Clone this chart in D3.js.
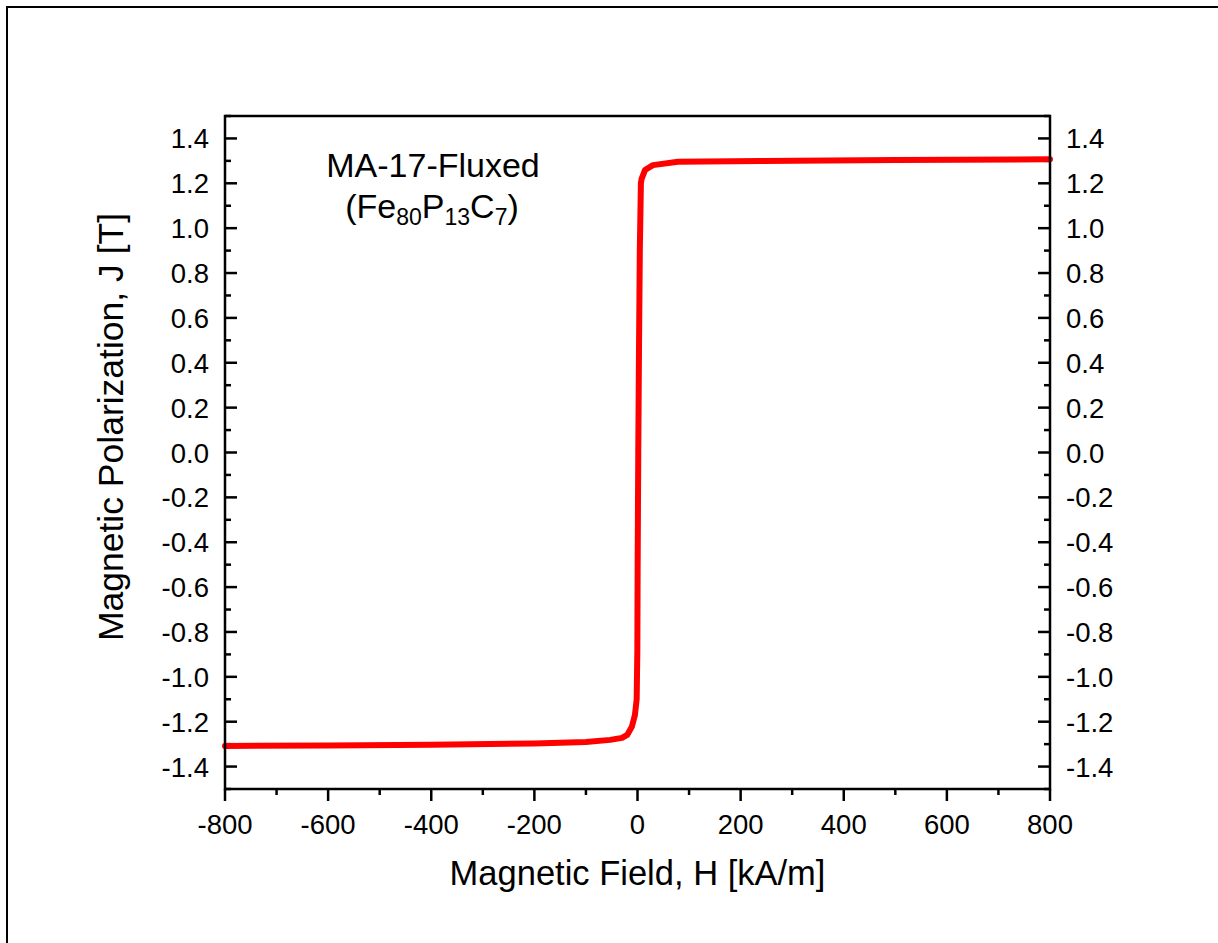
<!DOCTYPE html>
<html>
<head>
<meta charset="utf-8">
<script src="https://cdn.jsdelivr.net/npm/d3@7"></script>
<style>
  body { margin: 0; background: #fff; }
  svg { display: block; font-family: Arial, "Liberation Sans", sans-serif; }
</style>
</head>
<body>
<svg id="chart" width="1218" height="943"></svg>
<script>
// hysteresis data (H in kA/m, J in T)
var fieldH = [-800, -600, -400, -200, -150, -100, -53, -30, -20, -11, -5, -1.6, -0.3, 0.3, 1.5, 2.9, 4.5, 6.6, 8, 14.5, 30, 78.5, 237, 500, 800];
var polarJ = [-1.308, -1.306, -1.303, -1.297, -1.294, -1.290, -1.281, -1.272, -1.259, -1.223, -1.17, -1.10, -0.88, -0.5, 0, 0.46, 0.9, 1.2, 1.22, 1.259, 1.281, 1.296, 1.299, 1.304, 1.307];

var xTicks = [-800, -600, -400, -200, 0, 200, 400, 600, 800];
var yTicks = [-1.4, -1.2, -1.0, -0.8, -0.6, -0.4, -0.2, 0.0, 0.2, 0.4, 0.6, 0.8, 1.0, 1.2, 1.4];

(function() {
  var svg = d3.select("#chart");

  // outer frame (only left/top visible)
  svg.append("rect")
    .attr("x", 7).attr("y", 7)
    .attr("width", 1240).attr("height", 960)
    .attr("fill", "none").attr("stroke", "#000").attr("stroke-width", 2);

  var pl = 225, pr = 1050, pt = 116, pb = 789;

  var x = d3.scaleLinear().domain([-800, 800]).range([pl, pr]);
  var y = d3.scaleLinear().domain([-1.5, 1.5]).range([pb, pt]);

  // plain hyphen for negatives, like the original
  var fmt = function(v) { return d3.format(".1f")(v).replace("\u2212", "-"); };

  // ticks: bottom outward, left/right inward, minor every half step
  var g = svg.append("g");
  d3.range(-800, 801, 100).forEach(function(v) {
    var major = v % 200 === 0;
    g.append("line").attr("x1", x(v)).attr("x2", x(v))
      .attr("y1", pb).attr("y2", pb + (major ? 12 : 6))
      .attr("stroke", "#000").attr("stroke-width", 2.5);
  });
  d3.range(-15, 16).forEach(function(k) {
    var v = k / 10;
    var len = (k % 2 === 0) ? 12 : 6;
    g.append("line").attr("x1", pl).attr("x2", pl + len)
      .attr("y1", y(v)).attr("y2", y(v))
      .attr("stroke", "#000").attr("stroke-width", 2.5);
    g.append("line").attr("x1", pr).attr("x2", pr - len)
      .attr("y1", y(v)).attr("y2", y(v))
      .attr("stroke", "#000").attr("stroke-width", 2.5);
  });

  // tick labels
  svg.selectAll(".xl").data(xTicks).enter().append("text")
    .attr("x", function(d) { return x(d); })
    .attr("y", 834)
    .attr("text-anchor", "middle")
    .attr("font-size", 27.5)
    .text(function(d) { return String(d); });

  svg.selectAll(".yl").data(yTicks).enter().append("text")
    .attr("x", pl - 16)
    .attr("y", function(d) { return y(d) + 10; })
    .attr("text-anchor", "end")
    .attr("font-size", 27.5)
    .text(function(d) { return fmt(d); });

  svg.selectAll(".yr").data(yTicks).enter().append("text")
    .attr("x", pr + 16)
    .attr("y", function(d) { return y(d) + 10; })
    .attr("text-anchor", "start")
    .attr("font-size", 27.5)
    .text(function(d) { return fmt(d); });

  // the curve
  var line = d3.line()
    .x(function(d) { return x(d[0]); })
    .y(function(d) { return y(d[1]); });

  svg.append("path")
    .datum(d3.zip(fieldH, polarJ))
    .attr("d", line)
    .attr("fill", "none")
    .attr("stroke", "#ff0000")
    .attr("stroke-width", 6)
    .attr("stroke-linejoin", "round")
    .attr("stroke-linecap", "round");

  // plot frame
  svg.append("rect")
    .attr("x", pl).attr("y", pt)
    .attr("width", pr - pl).attr("height", pb - pt)
    .attr("fill", "none").attr("stroke", "#000").attr("stroke-width", 2.5);

  // axis titles
  svg.append("text")
    .attr("x", (pl + pr) / 2).attr("y", 885)
    .attr("text-anchor", "middle")
    .attr("font-size", 34.5)
    .text("Magnetic Field, H [kA/m]");

  svg.append("text")
    .attr("transform", "translate(123,427) rotate(-90)")
    .attr("text-anchor", "middle")
    .attr("font-size", 35.5)
    .text("Magnetic Polarization, J [T]");

  // sample label
  svg.append("text")
    .attr("x", 433).attr("y", 177)
    .attr("text-anchor", "middle")
    .attr("font-size", 34)
    .text("MA-17-Fluxed");

  var t2 = svg.append("text")
    .attr("x", 432).attr("y", 218)
    .attr("text-anchor", "middle")
    .attr("font-size", 34);
  t2.append("tspan").text("(Fe");
  t2.append("tspan").attr("font-size", 23).attr("dy", 7).text("80");
  t2.append("tspan").attr("dy", -7).text("P");
  t2.append("tspan").attr("font-size", 23).attr("dy", 7).text("13");
  t2.append("tspan").attr("dy", -7).text("C");
  t2.append("tspan").attr("font-size", 23).attr("dy", 7).text("7");
  t2.append("tspan").attr("dy", -7).text(")");
})();
</script>
</body>
</html>
